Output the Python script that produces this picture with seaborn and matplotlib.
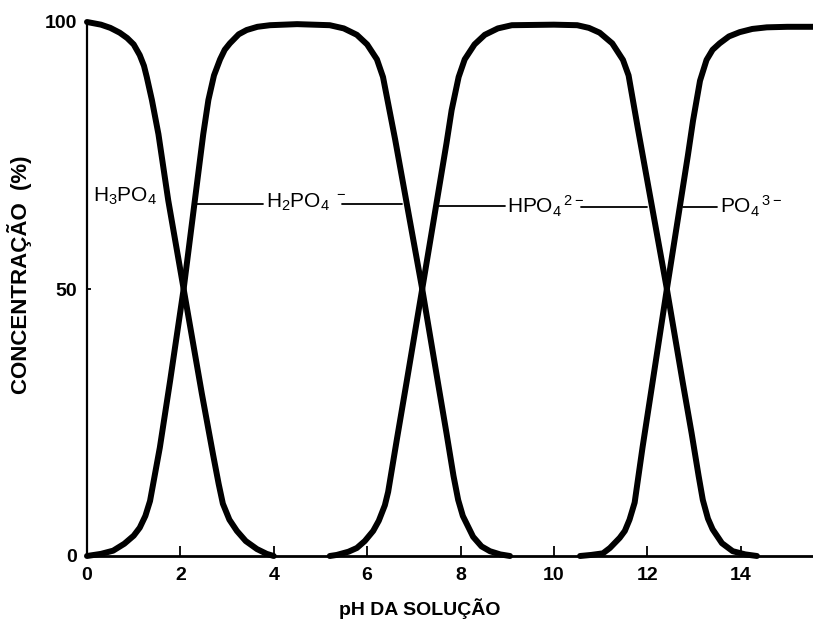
import matplotlib
matplotlib.use("Agg")
import matplotlib.pyplot as plt
import seaborn as sns
import pandas as pd

# values (pH, % of total phosphate)
ph_h3po4 = [0, 0.3, 0.5, 0.7, 0.86, 1.0, 1.13, 1.22, 1.28, 1.39, 1.53, 1.74, 2.07,
            2.46, 2.7, 2.82, 2.91, 3.05, 3.21, 3.4, 3.64, 3.85, 4.0]
pc_h3po4 = [100, 99.5, 98.9, 98, 97, 95.8, 93.8, 91.8, 89.7, 85.4, 79, 66.6, 50,
            30.4, 19, 13.5, 9.8, 6.8, 4.7, 2.8, 1.3, 0.4, 0]

ph_h2po4 = [0, 0.3, 0.56, 0.8, 1.0, 1.13, 1.25, 1.35, 1.56, 1.78, 2.07, 2.31, 2.49,
            2.6, 2.72, 2.85, 2.95, 3.06, 3.25, 3.42, 3.65, 3.92, 4.5, 5.2, 5.5, 5.78,
            6.0, 6.21, 6.34, 6.5, 6.6, 7.18, 7.52, 7.7, 7.85, 7.95, 8.05, 8.27, 8.45,
            8.63, 8.85, 9.06]
pc_h2po4 = [0, 0.4, 1, 2.3, 3.8, 5.3, 7.5, 10.3, 20.3, 32.8, 50, 66.6, 79,
            85.4, 90, 93, 94.8, 96, 97.7, 98.5, 99.1, 99.4, 99.6, 99.4, 98.8, 97.6,
            95.8, 93, 89.7, 82.5, 78, 50, 32.3, 23, 15, 10.5, 7.5, 3.6, 1.8,
            0.9, 0.3, 0]

ph_hpo4 = [5.2, 5.35, 5.6, 5.78, 5.95, 6.13, 6.25, 6.38, 6.45, 6.64, 6.85, 7.18, 7.7,
           7.81, 7.96, 8.09, 8.3, 8.52, 8.8, 9.1, 10.0, 10.5, 10.75, 10.98, 11.25,
           11.48, 11.6, 11.7, 11.8, 12.42, 12.76, 12.95, 13.1, 13.19, 13.3, 13.4,
           13.6, 13.83, 14.1, 14.35]
pc_hpo4 = [0, 0.2, 0.8, 1.5, 2.8, 4.7, 6.6, 9.5, 12, 22, 32.8, 50, 77.3,
           83.5, 89.7, 93, 95.8, 97.6, 98.8, 99.4, 99.5, 99.4, 98.9, 98, 96,
           92.9, 90, 85, 80, 50, 32.5, 23, 15, 10.5, 7, 5,
           2.4, 0.9, 0.3, 0]

ph_po4 = [10.56, 10.8, 11.05, 11.2, 11.41, 11.52, 11.62, 11.73, 11.9, 12.12, 12.42,
          12.87, 12.98, 13.13, 13.27, 13.4, 13.55, 13.75, 13.98, 14.25, 14.56, 15.0,
          15.55]
pc_po4 = [0, 0.2, 0.5, 1.5, 3.4, 4.7, 6.8, 10, 20.4, 32.9, 50,
          75, 81.5, 89, 92.9, 94.8, 96, 97.3, 98.1, 98.7, 99, 99.1,
          99.1]

species = ["H3PO4", "H2PO4-", "HPO4 2-", "PO4 3-"]
labels = [r"$\mathregular{H_3PO_4}$", r"$\mathregular{H_2PO_4{}^{\ -}}$",
          r"$\mathregular{HPO_4{}^{\,2-}}$", r"$\mathregular{PO_4{}^{\,3-}}$"]

curves = pd.concat([
    pd.DataFrame({"pH": ph_h3po4, "pct": pc_h3po4, "species": species[0]}),
    pd.DataFrame({"pH": ph_h2po4, "pct": pc_h2po4, "species": species[1]}),
    pd.DataFrame({"pH": ph_hpo4, "pct": pc_hpo4, "species": species[2]}),
    pd.DataFrame({"pH": ph_po4, "pct": pc_po4, "species": species[3]}),
])

sns.set_style("ticks")
plt.rcParams["font.family"] = ["Liberation Sans", "DejaVu Sans"]
plt.rcParams["mathtext.fontset"] = "custom"
plt.rcParams["mathtext.rm"] = "Liberation Sans"
plt.rcParams["text.color"] = "black"
plt.rcParams["axes.labelcolor"] = "black"

fig = plt.figure(figsize=(8.13, 6.31), dpi=100)
ax = fig.add_axes([87 / 813, 75 / 631, 726 / 813, 534 / 631])

for sp in species:
    d = curves[curves["species"] == sp]
    sns.lineplot(data=d, x="pH", y="pct", ax=ax, color="black", linewidth=4.3,
                 sort=False, estimator=None, clip_on=False,
                 solid_joinstyle="round", solid_capstyle="round")

# label leader lines
lw = 1.3
ax.plot([2.36, 3.78], [66, 66], color="black", lw=lw)
ax.plot([5.46, 6.75], [66, 66], color="black", lw=lw)
ax.plot([7.52, 8.95], [65.5, 65.5], color="black", lw=lw)
ax.plot([10.58, 11.99], [65.3, 65.3], color="black", lw=lw)
ax.plot([12.76, 13.5], [65.3, 65.3], color="black", lw=lw)

ax.text(0.13, 67.3, labels[0], fontsize=15, va="center", ha="left", color="black")
ax.text(3.83, 66.2, labels[1], fontsize=15, va="center", ha="left", color="black")
ax.text(9.0, 65.5, labels[2], fontsize=15, va="center", ha="left", color="black")
ax.text(13.55, 65.5, labels[3], fontsize=15, va="center", ha="left", color="black")

ax.set_xlim(0, 15.55)
ax.set_ylim(0, 100)
ax.set_xticks([0, 2, 4, 6, 8, 10, 12, 14])
ax.set_yticks([0, 50, 100])
ax.tick_params(axis="x", direction="in", length=7, width=1.3, pad=8,
               labelsize=14, colors="black")
ax.tick_params(axis="y", direction="in", length=3, width=1.3, pad=7,
               labelsize=14, colors="black")
for t in ax.get_xticklabels() + ax.get_yticklabels():
    t.set_fontweight("bold")

sns.despine(ax=ax)
ax.spines["left"].set_linewidth(1.6)
ax.spines["bottom"].set_linewidth(2.0)
ax.spines["left"].set_color("black")
ax.spines["bottom"].set_color("black")

ax.set_xlabel("pH DA SOLUÇÃO", fontsize=14, fontweight="bold", color="black")
ax.set_ylabel("CONCENTRAÇÃO  (%)", fontsize=16, fontweight="bold", color="black")
ax.xaxis.set_label_coords((420 - 87) / 726, -0.08)
ax.yaxis.set_label_coords((32 - 87) / 726, 0.526)

fig.savefig("out.png", dpi=100)
